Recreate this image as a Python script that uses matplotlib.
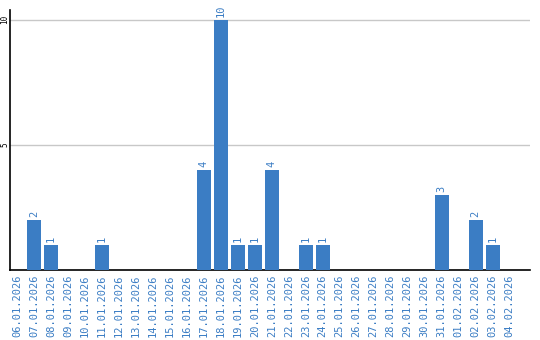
import matplotlib
matplotlib.use("Agg")
import matplotlib.pyplot as plt
import numpy as np

dates = ["06.01.2026", "07.01.2026", "08.01.2026", "09.01.2026", "10.01.2026",
         "11.01.2026", "12.01.2026", "13.01.2026", "14.01.2026", "15.01.2026",
         "16.01.2026", "17.01.2026", "18.01.2026", "19.01.2026", "20.01.2026",
         "21.01.2026", "22.01.2026", "23.01.2026", "24.01.2026", "25.01.2026",
         "26.01.2026", "27.01.2026", "28.01.2026", "29.01.2026", "30.01.2026",
         "31.01.2026", "01.02.2026", "02.02.2026", "03.02.2026", "04.02.2026"]
counts = [0, 2, 1, 0, 0, 1, 0, 0, 0, 0, 0, 4, 10, 1, 1, 4, 0, 1, 1, 0,
          0, 0, 0, 0, 0, 3, 0, 2, 1, 0]
yticks = [5, 10]

blue = "#3b7dc4"

fig = plt.figure(figsize=(5.4, 3.4), dpi=100)
ax = fig.add_axes([0.0185, 0.206, 0.963, 0.765])

x = np.arange(len(dates))
ax.bar(x, counts, width=0.82, color=blue, zorder=3)

# value labels above non-zero bars
for xi, v in zip(x, counts):
    if v > 0:
        ax.text(xi, v + 0.1, str(v), rotation=90, ha="center", va="bottom",
                color=blue, fontsize=7.5, family="DejaVu Sans Mono")

ax.set_xlim(-0.41, 30.2)
ax.set_ylim(0, 10.4)
ax.set_xticks(x)
ax.set_xticklabels(dates, rotation=90, color=blue, fontsize=7.5,
                   family="DejaVu Sans Mono")
ax.set_yticks(yticks)
ax.set_yticklabels([str(t) for t in yticks], rotation=90, fontsize=5.5,
                   family="DejaVu Sans Mono", va="center")
ax.tick_params(axis="x", length=0, pad=3)
ax.tick_params(axis="y", length=0, pad=0.5)
ax.grid(axis="y", color="#c8c8c8", linewidth=1, zorder=0)

for s in ["top", "right"]:
    ax.spines[s].set_visible(False)
ax.spines["left"].set_linewidth(1.2)
ax.spines["bottom"].set_linewidth(1.2)

fig.savefig("out.png", dpi=100)
